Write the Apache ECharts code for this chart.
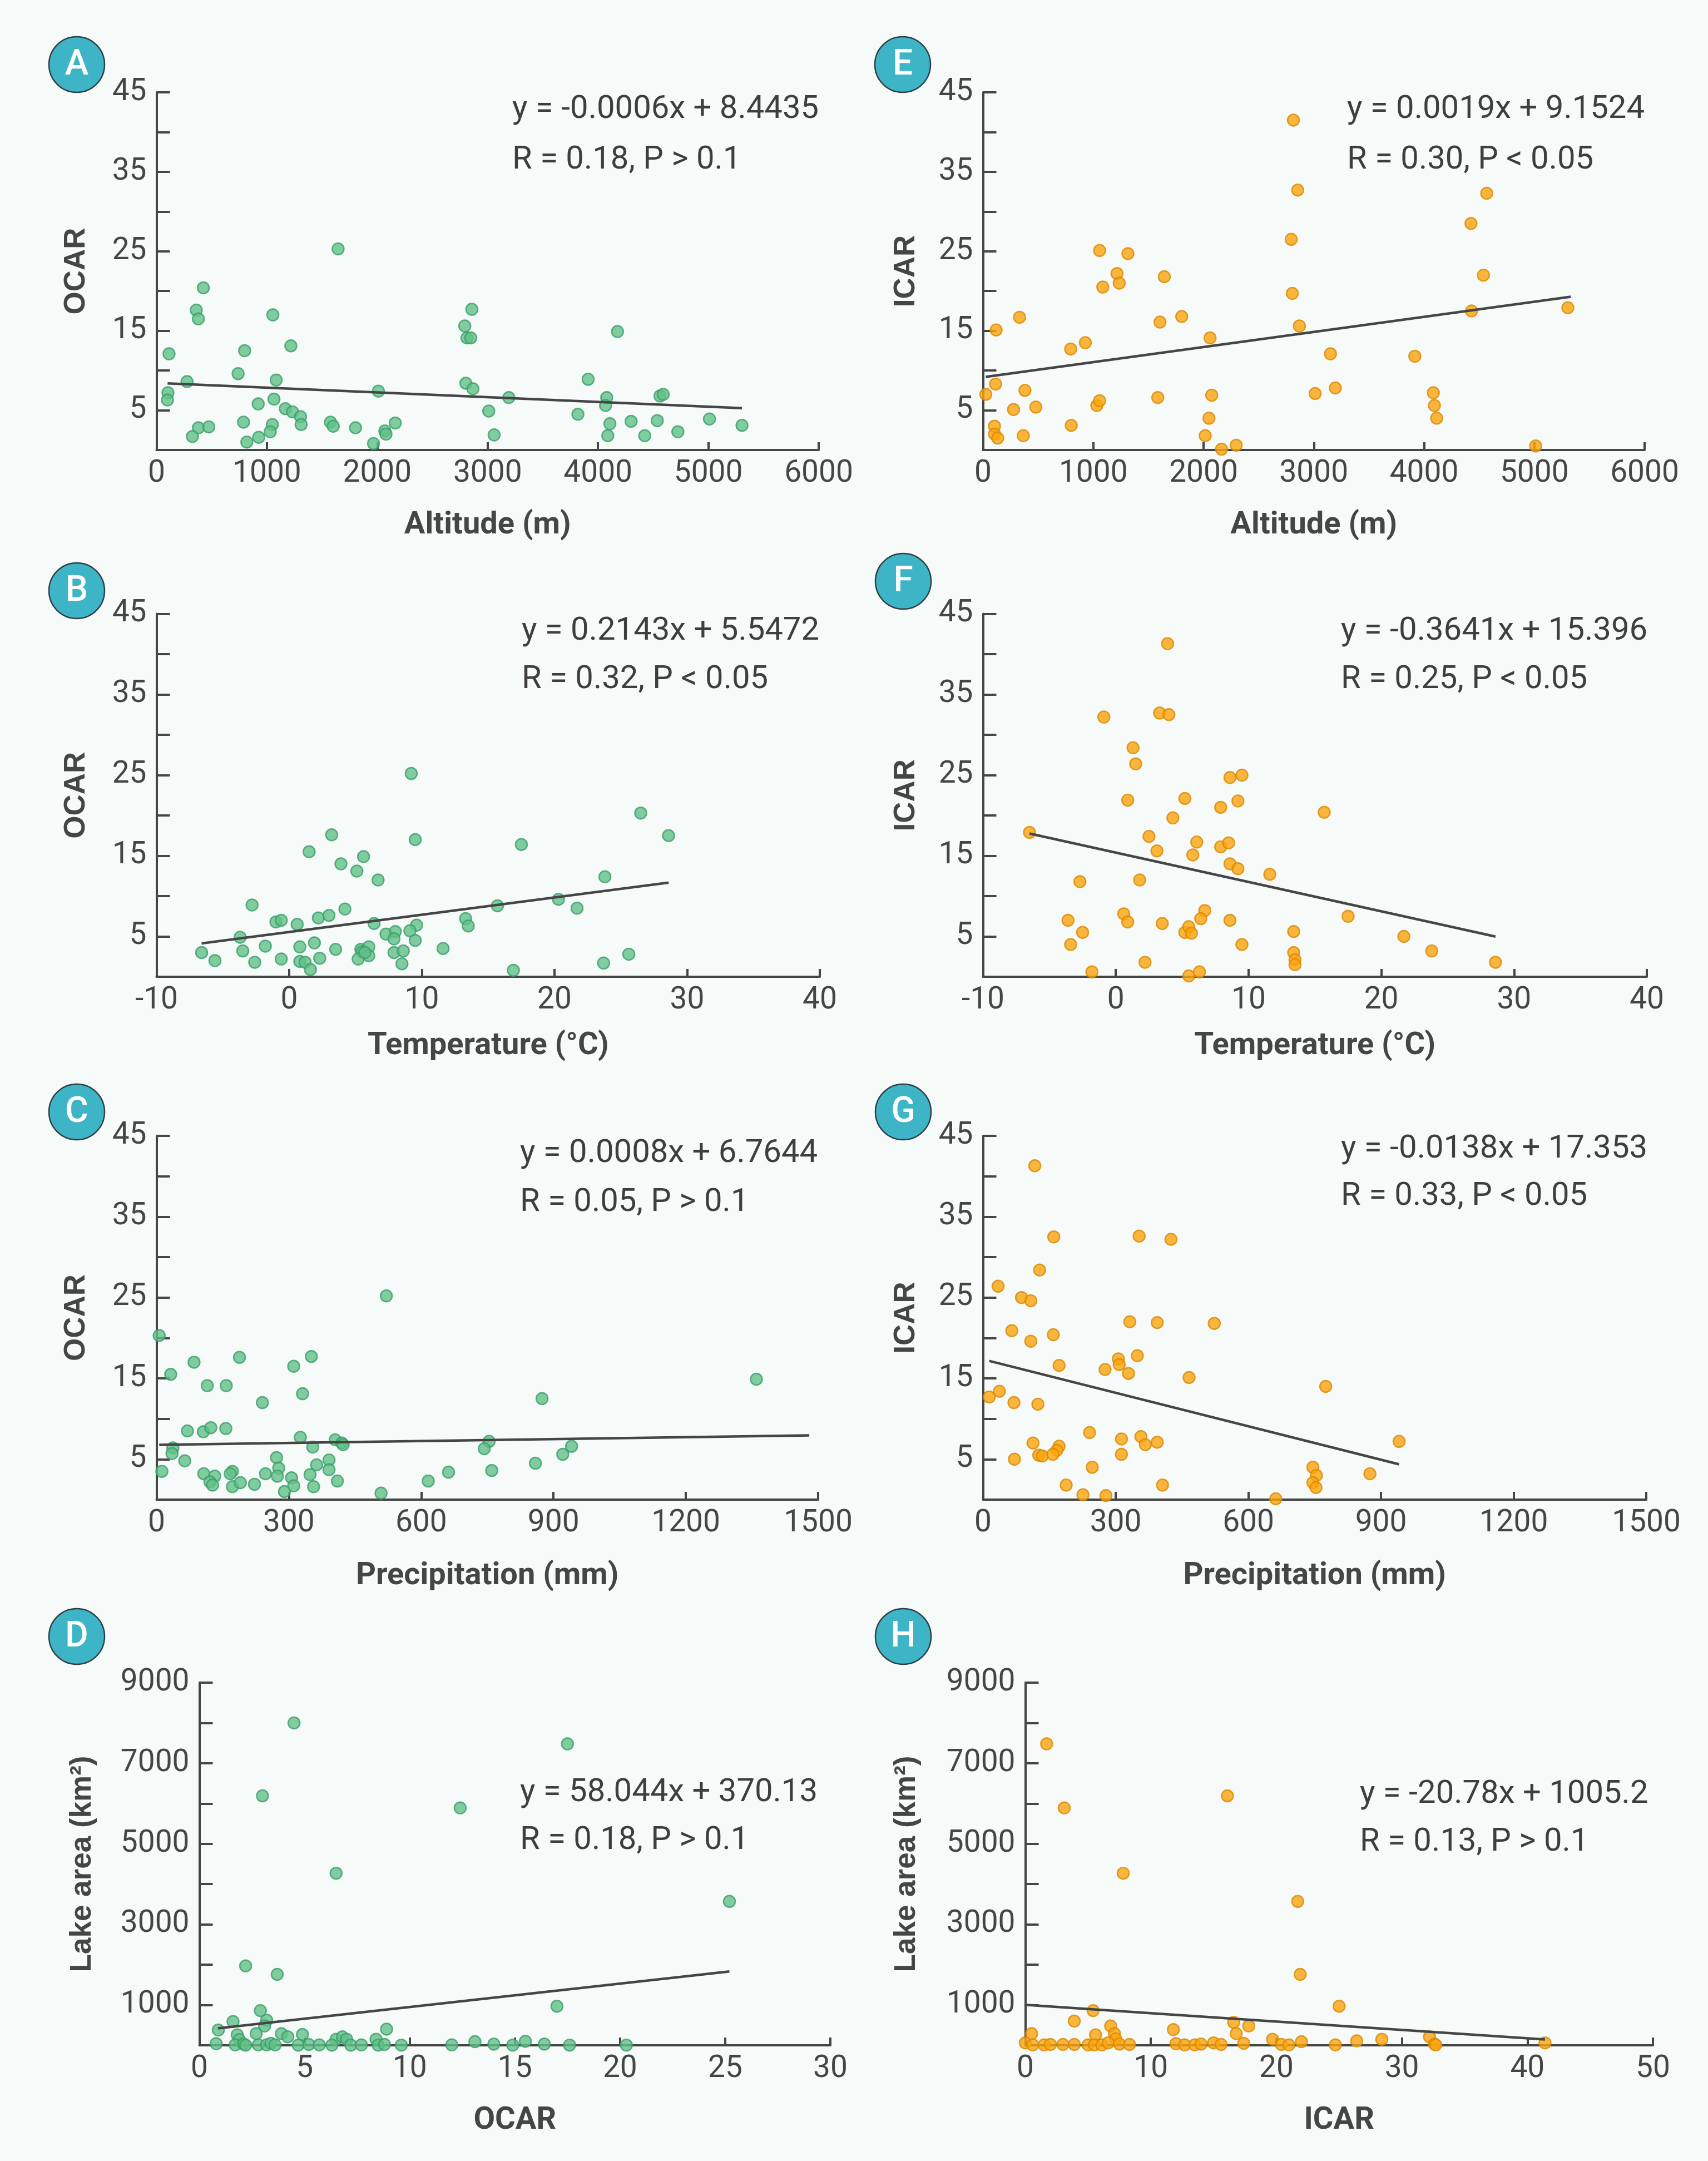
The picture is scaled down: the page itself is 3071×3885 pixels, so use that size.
<!DOCTYPE html>
<html>
<head>
<meta charset="utf-8">
<title>OCAR / ICAR scatter panels</title>
<script src="https://cdn.jsdelivr.net/npm/echarts@6.0.0/dist/echarts.min.js"></script>
<style>
  html, body { margin: 0; padding: 0; background: #f6faf9; }
  #chart { width: 3071px; height: 3885px; }
</style>
</head>
<body>
<div id="chart"></div>
<script>
// ---- data ----
// A: altitude (m) vs OCAR
var altA = [1645,424,360,379,1054,2857,2793,2813,2847,4177,113,798,1217,739,276,1084,2803,2867,3911,103,99,2010,3192,4079,4069,4562,4591,921,1064,1167,1232,1305,1310,3010,3818,788,1049,379,473,325,818,926,1030,1576,1601,1803,1966,2069,2079,2163,3059,4108,4089,4300,4424,4537,4724,5010,5305];
var ocarA = [25.3,20.4,17.6,16.5,17.0,17.7,15.6,14.1,14.1,14.9,12.1,12.5,13.1,9.6,8.6,8.8,8.4,7.7,8.9,7.2,6.3,7.4,6.6,6.6,5.6,6.8,7.0,5.8,6.4,5.2,4.8,4.2,3.2,4.9,4.5,3.5,3.2,2.8,2.9,1.7,1.0,1.6,2.3,3.5,3.0,2.8,0.8,2.4,2.0,3.4,1.9,3.3,1.8,3.6,1.8,3.7,2.3,3.9,3.1];
// E: altitude (m) vs ICAR
var altE = [2815,2854,4568,4425,2795,1057,1314,1215,1235,1086,1644,4538,2805,4430,5304,331,119,1605,1802,2869,2059,928,795,3151,3916,114,380,25,3012,3195,4084,4094,4114,479,277,1032,1057,1585,2074,2049,104,104,133,365,800,2015,2163,2296,5012];
var icarE = [41.5,32.7,32.3,28.5,26.5,25.1,24.7,22.2,21.0,20.5,21.8,22.0,19.7,17.5,17.9,16.7,15.1,16.1,16.8,15.6,14.1,13.5,12.7,12.1,11.8,8.3,7.5,7.0,7.1,7.8,7.2,5.6,4.0,5.4,5.1,5.6,6.2,6.6,6.9,4.0,3.0,2.0,1.5,1.8,3.1,1.8,0.1,0.6,0.5];
// B: temperature vs OCAR
var tempB = [9.2,26.5,28.6,3.2,9.5,17.5,1.5,5.6,3.9,5.1,6.7,23.8,-2.8,4.2,15.7,20.3,21.7,2.2,3.0,-1.0,-0.6,0.6,6.4,9.6,13.3,13.5,-3.7,7.3,8.0,9.1,7.9,9.5,-6.6,-5.6,-3.5,-2.6,-1.8,-0.6,0.8,1.9,0.8,1.2,1.6,2.3,3.5,5.4,5.5,6.0,6.0,5.2,5.7,7.9,8.6,8.5,11.6,16.9,23.7,25.6];
var ocarB = [25.2,20.3,17.5,17.6,17.0,16.4,15.5,14.9,14.0,13.1,12.0,12.4,8.9,8.4,8.8,9.6,8.5,7.3,7.6,6.8,7.0,6.5,6.6,6.4,7.2,6.3,4.9,5.3,5.6,5.7,4.7,4.5,3.0,2.0,3.2,1.8,3.8,2.2,3.7,4.2,1.9,1.8,0.9,2.3,3.4,3.4,3.1,3.7,2.6,2.2,3.0,3.0,3.2,1.6,3.5,0.8,1.7,2.8];
// F: temperature vs ICAR
var tempF = [3.9,-0.9,3.3,4.0,1.3,1.5,8.6,9.5,0.9,5.2,7.9,9.2,15.7,4.3,-6.5,2.5,6.1,7.9,8.5,3.1,5.8,8.6,9.2,11.6,-2.7,1.8,-3.6,0.6,0.9,3.5,6.7,6.4,8.6,17.5,-2.5,-3.4,5.2,5.5,5.7,9.5,13.4,21.7,13.4,13.5,13.5,23.8,28.6,2.2,-1.8,5.5,6.3];
var icarF = [41.3,32.2,32.7,32.5,28.4,26.4,24.7,25.0,21.9,22.1,21.0,21.8,20.4,19.7,17.9,17.4,16.7,16.1,16.6,15.6,15.1,14.0,13.4,12.7,11.8,12.0,7.0,7.8,6.8,6.6,8.2,7.2,7.0,7.5,5.5,4.0,5.5,6.2,5.4,4.0,5.6,5.0,3.0,2.1,1.5,3.2,1.8,1.8,0.6,0.1,0.6];
// C: precipitation vs OCAR
var precC = [521,6,85,188,351,311,32,115,158,331,240,874,1360,70,106,123,157,326,405,420,423,354,37,35,64,754,743,941,921,859,272,391,363,391,277,12,107,132,121,127,172,167,172,190,222,247,274,306,311,348,356,290,410,509,616,662,760];
var ocarC = [25.2,20.3,17.0,17.6,17.7,16.5,15.5,14.1,14.1,13.1,12.0,12.5,14.9,8.5,8.4,8.9,8.8,7.7,7.4,7.0,6.8,6.5,6.4,5.7,4.8,7.2,6.3,6.6,5.6,4.5,5.2,4.9,4.3,3.7,3.9,3.5,3.2,2.9,2.2,1.8,3.5,3.2,1.6,2.1,1.9,3.2,2.9,2.7,1.7,3.1,1.6,1.0,2.3,0.8,2.3,3.4,3.6];
// G: precipitation vs ICAR
var precG = [117,160,353,425,128,34,87,108,332,394,523,65,159,108,349,306,308,172,276,329,466,775,14,37,70,124,241,313,357,367,394,941,113,172,167,126,134,158,313,71,247,746,754,746,753,875,188,406,226,278,662];
var icarG = [41.3,32.5,32.6,32.2,28.4,26.4,25.0,24.6,22.0,21.9,21.8,20.9,20.4,19.6,17.8,17.4,16.7,16.6,16.1,15.6,15.1,14.0,12.7,13.4,12.0,11.8,8.3,7.5,7.8,6.8,7.1,7.2,7.0,6.6,6.1,5.5,5.4,5.6,5.6,5.0,4.0,4.0,3.0,2.1,1.5,3.2,1.8,1.8,0.6,0.5,0.1];
// D: OCAR vs lake area
var ocarD = [4.5,17.5,3.0,12.4,6.5,25.2,2.2,3.7,17.0,2.9,1.6,3.2,3.1,0.9,8.9,1.8,2.7,3.9,4.2,4.9,1.9,6.5,6.8,7.0,8.4,0.8,1.7,2.1,2.2,2.8,3.2,3.4,3.6,4.7,5.2,5.7,6.3,7.2,7.7,8.5,8.8,9.6,12.0,13.1,14.0,14.9,15.5,16.4,17.6,20.3];
var areaD = [8000,7480,6190,5890,4270,3570,1970,1760,970,860,590,620,480,380,400,260,290,290,210,270,140,150,210,150,150,40,10,30,5,10,10,50,10,5,20,10,5,5,10,5,20,5,10,90,30,5,100,30,5,5];
// H: ICAR vs lake area
var icarH = [1.7,3.1,16.1,7.8,21.7,21.9,25.0,5.4,3.9,16.6,17.8,6.8,11.8,0.5,5.6,7.1,16.8,7.2,19.7,22.0,26.4,28.4,32.2,32.6,41.4,0.0,0.6,1.5,2.0,3.0,3.9,5.0,5.5,6.1,6.6,7.5,8.3,12.0,12.7,13.5,14.0,15.0,15.6,17.4,20.4,21.0,24.7,32.7];
var areaH = [7480,5890,6190,4270,3570,1760,970,860,600,570,480,480,390,290,260,290,290,160,150,90,110,150,210,30,60,60,10,10,20,20,20,10,10,10,60,30,20,40,10,10,30,60,20,50,20,10,10,10];

// regression (slope, intercept) as printed, and x range of each fitted line
var fitA = [-0.0006, 8.4435],  rangeA = [100, 5305];
var fitE = [0.0019, 9.1524],   rangeE = [25, 5330];
var fitB = [0.2143, 5.5472],   rangeB = [-6.6, 28.6];
var fitF = [-0.3641, 15.396],  rangeF = [-6.5, 28.6];
var fitC = [0.0008, 6.7644],   rangeC = [6, 1480];
var fitG = [-0.0138, 17.353],  rangeG = [14, 941];
var fitD = [58.044, 370.13],   rangeD = [0.88, 25.2];
var fitH = [-20.78, 1005.2],   rangeH = [0, 41.4];

var eqA = ['y = -0.0006x + 8.4435', 'R = 0.18, P > 0.1'];
var eqE = ['y = 0.0019x + 9.1524', 'R = 0.30, P < 0.05'];
var eqB = ['y = 0.2143x + 5.5472', 'R = 0.32, P < 0.05'];
var eqF = ['y = -0.3641x + 15.396', 'R = 0.25, P < 0.05'];
var eqC = ['y = 0.0008x + 6.7644', 'R = 0.05, P > 0.1'];
var eqG = ['y = -0.0138x + 17.353', 'R = 0.33, P < 0.05'];
var eqD = ['y = 58.044x + 370.13', 'R = 0.18, P > 0.1'];
var eqH = ['y = -20.78x + 1005.2', 'R = 0.13, P > 0.1'];

var GREEN = { color: '#62c187', borderColor: '#3a9c69', borderWidth: 2.5 };
var ORANGE = { color: '#fba50c', borderColor: '#dc8700', borderWidth: 2.5 };
var INK = '#454545';

// layout: grid box [left, top, right, bottom] in px, badge centre, equation left/line centres
var panels = [
  { id: 'A', x: altA, y: ocarA, fit: fitA, range: rangeA, eq: eqA, dot: GREEN,
    box: [281.5, 166, 1472, 809], xAx: [0, 6000, 1000], yAx: 'rate', xName: 'Altitude (m)', yName: 'OCAR',
    xGap: 108, yGap: 118, badge: [138, 116], eqPos: [921, 197, 288] },
  { id: 'E', x: altE, y: icarE, fit: fitE, range: rangeE, eq: eqE, dot: ORANGE,
    box: [1767.5, 166, 2957, 809], xAx: [0, 6000, 1000], yAx: 'rate', xName: 'Altitude (m)', yName: 'ICAR',
    xGap: 108, yGap: 112, badge: [1623, 116], eqPos: [2422, 197, 288] },
  { id: 'B', x: tempB, y: ocarB, fit: fitB, range: rangeB, eq: eqB, dot: GREEN,
    box: [281.5, 1103.5, 1474, 1756], xAx: [-10, 40, 10], yAx: 'rate', xName: 'Temperature (°C)', yName: 'OCAR',
    xGap: 97, yGap: 118, badge: [138, 1062], eqPos: [938, 1135, 1222] },
  { id: 'F', x: tempF, y: icarF, fit: fitF, range: rangeF, eq: eqF, dot: ORANGE,
    box: [1767.5, 1103.5, 2961, 1756], xAx: [-10, 40, 10], yAx: 'rate', xName: 'Temperature (°C)', yName: 'ICAR',
    xGap: 97, yGap: 112, badge: [1624, 1045], eqPos: [2411, 1135, 1222] },
  { id: 'C', x: precC, y: ocarC, fit: fitC, range: rangeC, eq: eqC, dot: GREEN,
    box: [281.5, 2042, 1471, 2696], xAx: [0, 1500, 300], yAx: 'rate', xName: 'Precipitation (mm)', yName: 'OCAR',
    xGap: 110, yGap: 118, badge: [138, 1999], eqPos: [935, 2074, 2162] },
  { id: 'G', x: precG, y: icarG, fit: fitG, range: rangeG, eq: eqG, dot: ORANGE,
    box: [1767.5, 2042, 2960, 2696], xAx: [0, 1500, 300], yAx: 'rate', xName: 'Precipitation (mm)', yName: 'ICAR',
    xGap: 110, yGap: 112, badge: [1624, 1999], eqPos: [2411, 2066, 2151] },
  { id: 'D', x: ocarD, y: areaD, fit: fitD, range: rangeD, eq: eqD, dot: GREEN,
    box: [358.5, 3025, 1493, 3677], xAx: [0, 30, 5], yAx: 'area', xName: 'OCAR', yName: 'Lake area (km²)',
    xGap: 108, yGap: 184, badge: [138, 2942], eqPos: [935, 3223, 3309] },
  { id: 'H', x: icarH, y: areaH, fit: fitH, range: rangeH, eq: eqH, dot: ORANGE,
    box: [1843.5, 3025, 2972, 3677], xAx: [0, 50, 10], yAx: 'area', xName: 'ICAR', yName: 'Lake area (km²)',
    xGap: 108, yGap: 187, badge: [1624, 2942], eqPos: [2445, 3226, 3312] }
];

var grids = [], xAxes = [], yAxes = [], series = [], graphics = [];

var tickFont = { fontFamily: 'Roboto', fontSize: 55, color: INK };
var axisLine = { show: true, onZero: false, lineStyle: { color: INK, width: 4 } };

panels.forEach(function (p, i) {
  grids.push({ left: p.box[0], top: p.box[1], width: p.box[2] - p.box[0], height: p.box[3] - p.box[1], containLabel: false });

  xAxes.push({
    gridIndex: i, type: 'value', min: p.xAx[0], max: p.xAx[1], interval: p.xAx[2],
    axisLine: axisLine, splitLine: { show: false },
    axisTick: { show: true, inside: true, length: 14, lineStyle: { color: INK, width: 4 } },
    axisLabel: Object.assign({ margin: 16, formatter: function (v) { return String(v); } }, tickFont),
    name: p.xName, nameLocation: 'middle', nameGap: p.xGap,
    nameTextStyle: { fontFamily: 'Roboto', fontWeight: 'bold', fontSize: 56, color: INK }
  });

  var isArea = p.yAx === 'area';
  yAxes.push({
    gridIndex: i, type: 'value', min: 0, max: isArea ? 9000 : 45, interval: isArea ? 1000 : 5,
    axisLine: axisLine, splitLine: { show: false },
    axisTick: { show: true, inside: true, length: 24, lineStyle: { color: INK, width: 4 } },
    axisLabel: Object.assign({
      margin: 18,
      formatter: function (v) {
        if (isArea) return (v / 1000) % 2 === 1 ? String(v) : '';
        return v % 10 === 5 ? String(v) : '';
      }
    }, tickFont),
    name: p.yName, nameLocation: 'middle', nameGap: p.yGap, nameRotate: 90,
    nameTextStyle: { fontFamily: 'Liberation Sans', fontWeight: 'bold', fontSize: 53, color: INK }
  });

  var pts = p.x.map(function (v, k) { return [v, p.y[k]]; });
  series.push({
    type: 'scatter', xAxisIndex: i, yAxisIndex: i, data: pts,
    symbol: 'circle', symbolSize: 21, itemStyle: p.dot, z: 2
  });

  var line = p.range.map(function (xv) { return [xv, p.fit[0] * xv + p.fit[1]]; });
  series.push({
    type: 'line', xAxisIndex: i, yAxisIndex: i, data: line, symbol: 'none',
    lineStyle: { color: INK, width: 4.5 }, z: 3, silent: true
  });

  graphics.push({
    type: 'circle', shape: { cx: p.badge[0], cy: p.badge[1], r: 50 },
    style: { fill: '#3db5c7', stroke: '#2f3f44', lineWidth: 2.5 }, z: 10
  });
  graphics.push({
    type: 'text', x: p.badge[0], y: p.badge[1] + 2, z: 11,
    style: { text: p.id, fill: '#ffffff', font: '500 64px Roboto',
      align: 'center', verticalAlign: 'middle', textAlign: 'center', textVerticalAlign: 'middle' }
  });
  [0, 1].forEach(function (k) {
    graphics.push({
      type: 'text', x: p.eqPos[0], y: p.eqPos[1 + k], z: 11,
      style: { text: p.eq[k], fill: '#3e3e3e', font: '400 58px Roboto',
        align: 'left', verticalAlign: 'middle', textAlign: 'left', textVerticalAlign: 'middle' }
    });
  });
});

var chart = echarts.init(document.getElementById('chart'));
chart.setOption({
  backgroundColor: '#f6faf9',
  animation: false,
  grid: grids,
  xAxis: xAxes,
  yAxis: yAxes,
  series: series,
  graphic: { elements: graphics }
});
</script>
</body>
</html>
